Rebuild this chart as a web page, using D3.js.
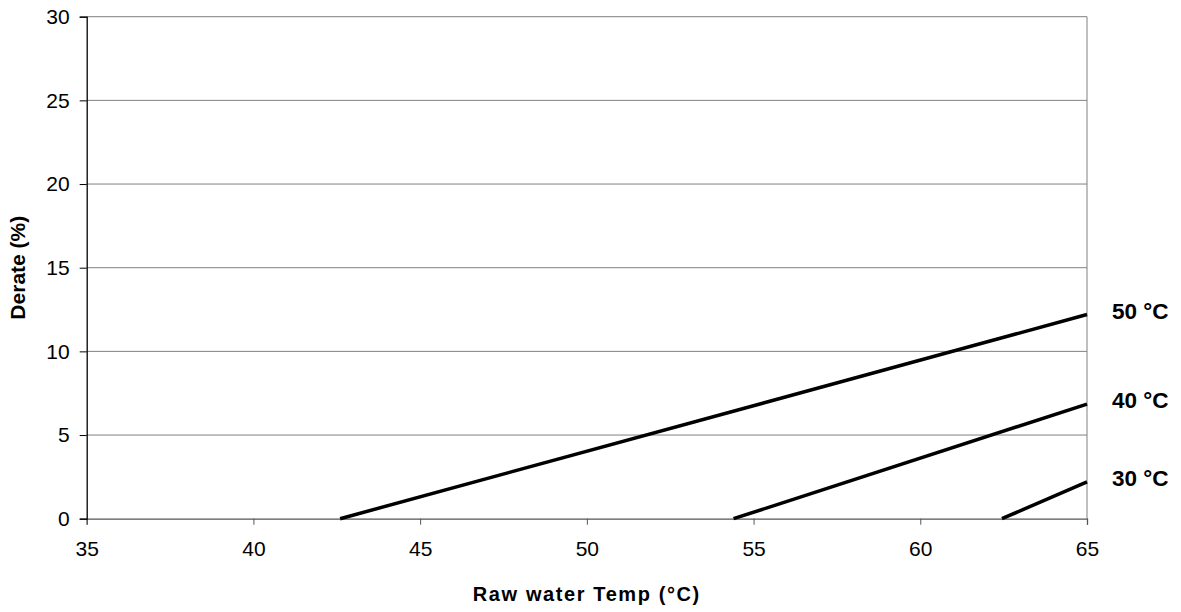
<!DOCTYPE html>
<html>
<head>
<meta charset="utf-8">
<script src="https://cdn.jsdelivr.net/npm/d3@7"></script>
<style>
html,body{margin:0;padding:0;background:#fff;}
svg{display:block;}
text{font-family:"Liberation Sans",Arial,sans-serif;}
</style>
</head>
<body>
<svg id="chart" width="1181" height="612"></svg>
<script>
// Data
const xTicks = [35, 40, 45, 50, 55, 60, 65];
const yTicks = [0, 5, 10, 15, 20, 25, 30];
const seriesNames = ["50 °C", "40 °C", "30 °C"];
const seriesX = [[42.6, 65], [54.4, 65], [62.45, 65]];
const seriesY = [[0, 12.2], [0, 6.85], [0, 2.2]];
const xTitle = "Raw water Temp (°C)";
const yTitle = "Derate (%)";

const svg = d3.select("#chart");
const L = 86.7, R = 1087, T = 16.7, B = 518.7;
const x = d3.scaleLinear().domain([35, 65]).range([L, R]);
const y = d3.scaleLinear().domain([0, 30]).range([B, T]);

// gridlines
svg.append("g").selectAll("line").data(yTicks.filter(d => d > 0)).join("line")
  .attr("x1", L).attr("x2", R).attr("y1", d => y(d)).attr("y2", d => y(d))
  .attr("stroke", "#808080").attr("stroke-width", 1);
// right border
svg.append("line").attr("x1", R).attr("x2", R).attr("y1", T).attr("y2", B)
  .attr("stroke", "#808080").attr("stroke-width", 1);

// x axis
const xAxis = svg.append("g").attr("transform", `translate(0,${B})`)
  .call(d3.axisBottom(x).tickValues(xTicks).tickSize(6).tickPadding(16).tickFormat(d3.format("d")));
xAxis.select(".domain").attr("stroke", "#555").attr("stroke-width", 1.3);
xAxis.selectAll(".tick line").attr("stroke", "#555");
xAxis.selectAll("text").attr("font-size", 21).attr("fill", "#000")
  .attr("font-family", "Liberation Sans, Arial, sans-serif");

// y axis
const yAxis = svg.append("g").attr("transform", `translate(${L},0)`)
  .call(d3.axisLeft(y).tickValues(yTicks).tickSize(7).tickPadding(10).tickFormat(d3.format("d")));
yAxis.select(".domain").attr("stroke", "#000").attr("stroke-width", 1.3);
yAxis.selectAll(".tick line").attr("stroke", "#000");
yAxis.selectAll("text").attr("font-size", 21).attr("fill", "#000")
  .attr("font-family", "Liberation Sans, Arial, sans-serif");

// lines
const line = d3.line().x(d => x(d[0])).y(d => y(d[1]));
seriesNames.forEach((name, i) => {
  const pts = seriesX[i].map((v, j) => [v, seriesY[i][j]]);
  svg.append("path").datum(pts).attr("d", line)
    .attr("fill", "none").attr("stroke", "#000").attr("stroke-width", 3.5);
  svg.append("text").attr("x", 1112).attr("y", y(seriesY[i][seriesY[i].length - 1]) + 4)
    .attr("font-size", 22.5).attr("font-weight", "bold").text(name);
});

// axis titles
svg.append("text").attr("x", (L + R) / 2).attr("y", 601).attr("text-anchor", "middle")
  .attr("font-size", 20).attr("font-weight", "bold").attr("letter-spacing", 1.6).text(xTitle);
svg.append("text").attr("transform", `translate(25,${(T + B) / 2}) rotate(-90)`)
  .attr("text-anchor", "middle").attr("font-size", 21).attr("font-weight", "bold").text(yTitle);
</script>
</body>
</html>
